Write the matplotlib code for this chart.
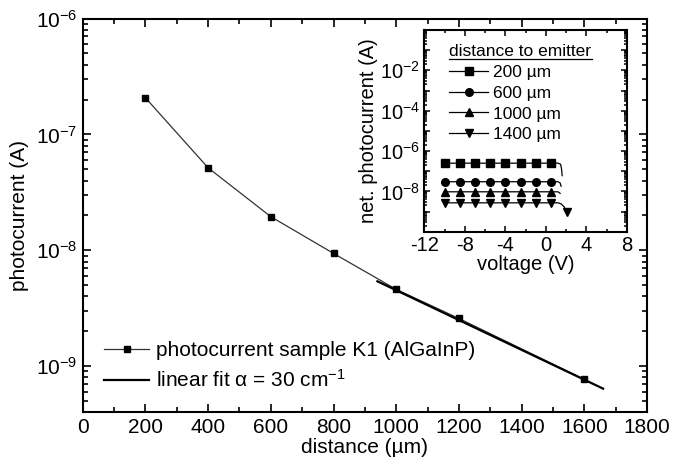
import matplotlib
matplotlib.use("Agg")
import matplotlib.pyplot as plt
from matplotlib.lines import Line2D
from matplotlib.ticker import LogLocator, MultipleLocator, NullFormatter, FixedLocator, FixedFormatter

plt.rcParams['font.family'] = ['Liberation Sans', 'DejaVu Sans']
plt.rcParams['mathtext.fontset'] = 'custom'
plt.rcParams['mathtext.rm'] = 'Liberation Sans'
plt.rcParams['mathtext.it'] = 'Liberation Sans:italic'
plt.rcParams['mathtext.bf'] = 'Liberation Sans:bold'
plt.rcParams['axes.unicode_minus'] = False

# ---- main data ----
distance = [200, 400, 600, 800, 1000, 1200, 1600]
photocurrent = [2.07e-7, 5.15e-8, 1.95e-8, 9.4e-9, 4.6e-9, 2.58e-9, 7.7e-10]
fit_distance = [940, 1660]
fit_current = [5.4e-9, 6.4e-10]

# ---- inset data ----
v_200 = [-10, -8.5, -7, -5.5, -4, -2.5, -1, 0.5, 1.2, 1.45, 1.55, 1.6]
i_200 = [2.5e-7, 2.5e-7, 2.5e-7, 2.5e-7, 2.5e-7, 2.5e-7, 2.5e-7, 2.5e-7, 2.5e-7, 2.2e-7, 1.2e-7, 6e-8]
v_600 = [-10, -8.5, -7, -5.5, -4, -2.5, -1, 0.5, 1.2, 1.4, 1.5]
i_600 = [3e-8, 3e-8, 3e-8, 3e-8, 3e-8, 3e-8, 3e-8, 3e-8, 3e-8, 2.6e-8, 1.8e-8]
v_1000 = [-10, -8.5, -7, -5.5, -4, -2.5, -1, 0.5, 1.2, 1.4]
i_1000 = [9.5e-9, 9.5e-9, 9.5e-9, 9.5e-9, 9.5e-9, 9.5e-9, 9.5e-9, 9.5e-9, 9.5e-9, 8e-9]
v_1400 = [-10, -8.5, -7, -5.5, -4, -2.5, -1, 0.5, 1.2, 1.5, 1.8, 2.05]
i_1400 = [2.7e-9, 2.7e-9, 2.7e-9, 2.7e-9, 2.7e-9, 2.7e-9, 2.7e-9, 2.7e-9, 2.7e-9, 2.4e-9, 1.7e-9, 9e-10]
inset_labels = ["200 µm", "600 µm", "1000 µm", "1400 µm"]

W, H = 695, 470
fig = plt.figure(figsize=(W / 100, H / 100), dpi=100)

def rect(l, t, r, b):
    return [l / W, 1 - b / H, (r - l) / W, (b - t) / H]

ax = fig.add_axes(rect(82.7, 18.5, 647, 412.3))
ax.set_yscale('log')
ax.set_xlim(0, 1800)
ax.set_ylim(4e-10, 1e-6)

ax.plot(distance, photocurrent, color='#333333', lw=0.9, marker='s', ms=5,
        mfc='black', mec='black', label='photocurrent sample K1 (AlGaInP)')
ax.plot(fit_distance, fit_current, color='black', lw=1.6,
        label='linear fit α = 30 cm$^{-1}$')

ax.xaxis.set_major_locator(MultipleLocator(200))
ax.xaxis.set_minor_locator(MultipleLocator(100))
ax.yaxis.set_major_locator(LogLocator(base=10, numticks=20))
ax.yaxis.set_minor_locator(LogLocator(base=10, subs=range(2, 10), numticks=50))
ax.yaxis.set_minor_formatter(NullFormatter())
ax.tick_params(which='both', direction='in', top=True, right=True, labelsize=15, width=1.2)
ax.tick_params(which='major', length=5.5, pad=4)
ax.tick_params(which='minor', length=3.5)
for s in ax.spines.values():
    s.set_linewidth(1.5)
ax.set_xlabel('distance (µm)', fontsize=15, labelpad=1)
ax.set_ylabel('photocurrent (A)', fontsize=15, labelpad=5)

leg = ax.legend(loc='upper left', bbox_to_anchor=(104 / W, 1 - 341 / H), bbox_transform=fig.transFigure,
                frameon=False, fontsize=15, handlelength=2.16, handletextpad=0.34,
                labelspacing=0.45, borderaxespad=0, borderpad=0)

# ---- inset ----
axi = fig.add_axes(rect(424.3, 30, 627, 231.7))
axi.set_facecolor('white')
axi.set_yscale('log')
axi.set_xlim(-12, 8)
axi.set_ylim(1e-10, 1)
series = [(v_200, i_200, 's', list(range(8))),
          (v_600, i_600, 'o', list(range(8))),
          (v_1000, i_1000, '^', list(range(8))),
          (v_1400, i_1400, 'v', list(range(8)) + [11])]
for (v, i, m, me), lab in zip(series, inset_labels):
    axi.plot(v, i, color='black', lw=0.9, marker=m, ms=5.5, markevery=me,
             mfc='black', mec='black', label=lab)

axi.xaxis.set_major_locator(MultipleLocator(4))
axi.xaxis.set_minor_locator(MultipleLocator(2))
decades = [10.0 ** k for k in range(-10, 1)]
axi.yaxis.set_major_locator(FixedLocator(decades))
ylabs = ['$10^{%d}$' % k if k in (-2, -4, -6, -8) else '' for k in range(-10, 1)]
axi.yaxis.set_major_formatter(FixedFormatter(ylabs))
axi.yaxis.set_minor_locator(LogLocator(base=10, subs=range(2, 10), numticks=50))
axi.yaxis.set_minor_formatter(NullFormatter())
axi.tick_params(which='both', direction='in', top=True, right=True, labelsize=14.5, width=1.1)
axi.tick_params(which='major', length=4.5, pad=3)
axi.tick_params(which='minor', length=2.5)
for s in axi.spines.values():
    s.set_linewidth(1.5)
axi.set_xlabel('voltage (V)', fontsize=14.5, labelpad=0)
axi.set_ylabel('net. photocurrent (A)', fontsize=14.5, labelpad=1)

legi = axi.legend(loc='upper left', bbox_to_anchor=(449 / W, 1 - 65 / H), bbox_transform=fig.transFigure,
                  frameon=False, fontsize=12.5, handlelength=2.25, handletextpad=0.27,
                  labelspacing=0.32, borderaxespad=0, borderpad=0)

fig.text(449 / W, 1 - 51 / H, 'distance to emitter', fontsize=12.5, ha='left', va='center')
fig.add_artist(Line2D([449 / W, 592 / W], [1 - 58.5 / H, 1 - 58.5 / H], color='black', lw=0.9,
                      transform=fig.transFigure))

fig.savefig('out.png', dpi=100)
